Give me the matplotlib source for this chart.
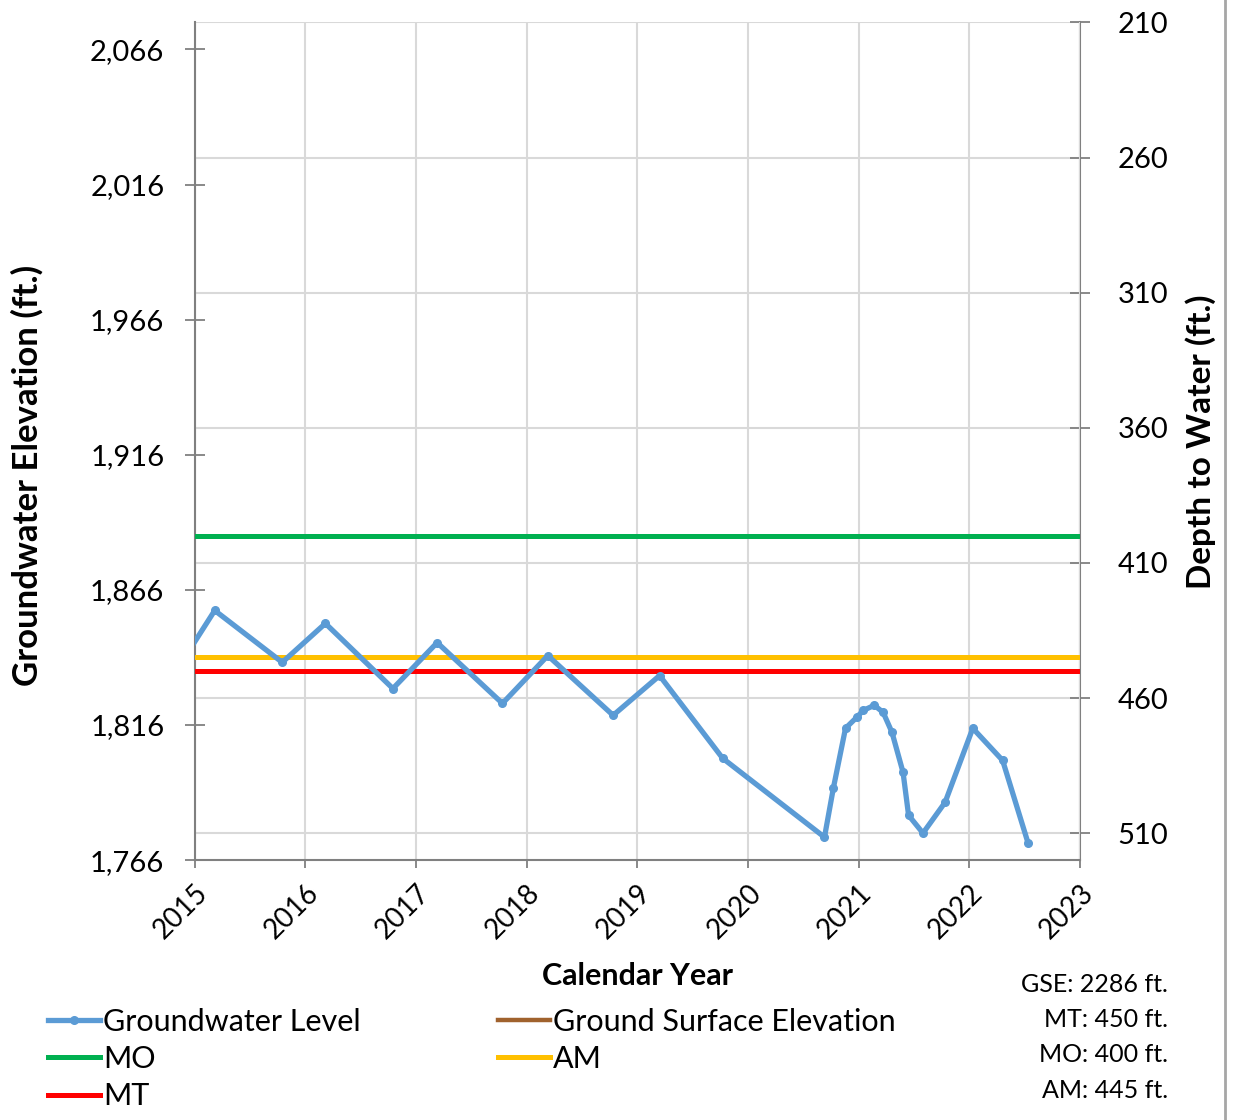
import numpy as np
import matplotlib.pyplot as plt
from matplotlib.ticker import FuncFormatter
from matplotlib.lines import Line2D

plt.rcParams['font.family'] = ['Lato', 'DejaVu Sans']

# -----------------------------
# Data
# -----------------------------
gse = 2286          # ground surface elevation [ft]
mt_depth = 450
mo_depth = 400
am_depth = 445

years = [2014.80, 2015.18, 2015.79, 2016.18, 2016.79, 2017.19, 2017.78, 2018.19,
         2018.78, 2019.20, 2019.77, 2020.69, 2020.77, 2020.88, 2020.98, 2021.04,
         2021.14, 2021.22, 2021.30, 2021.40, 2021.45, 2021.58, 2021.78, 2022.03,
         2022.30, 2022.53]
gw_elev = [1834.0, 1858.4, 1839.2, 1853.6, 1829.5, 1846.5, 1824.0, 1841.7,
           1819.6, 1834.3, 1803.7, 1774.5, 1792.6, 1814.8, 1818.8, 1821.4,
           1823.3, 1820.7, 1813.3, 1798.5, 1782.6, 1776.0, 1787.4, 1814.8,
           1802.9, 1772.3]

year_ticks = list(range(2015, 2024))
elev_ticks = [1766, 1816, 1866, 1916, 1966, 2016, 2066]
depth_ticks = [210, 260, 310, 360, 410, 460, 510]

# -----------------------------
# Figure
# -----------------------------
fig = plt.figure(figsize=(12.33, 11.2), dpi=100)
ax = fig.add_axes([0.158, 0.232, 0.718, 0.748])
ax2 = ax.twinx()

ax.plot(years, gw_elev, "o-", color="#5B9BD5", lw=3.8, ms=5.5, label="Groundwater Level", zorder=5)
ax.axhline(gse, color="#A0622D", lw=3.2, label="Ground Surface Elevation")
ax.axhline(gse - mo_depth, color="#00B050", lw=3.6, label="MO", zorder=4)
ax.axhline(gse - am_depth, color="#FFC000", lw=3.6, label="AM", zorder=4)
ax.axhline(gse - mt_depth, color="#FF0000", lw=3.6, label="MT", zorder=4)

ax.set_xlim(2015, 2023)
ax.set_ylim(gse - 520, gse - 210)
ax2.set_ylim(520, 210)

ax.set_xticks(year_ticks)
ax.set_xticklabels([str(y) for y in year_ticks], rotation=45, ha="right",
                   rotation_mode="anchor", fontsize=20)
ax.set_yticks(elev_ticks)
ax.yaxis.set_major_formatter(FuncFormatter(lambda v, p: f"{v:,.0f}"))
ax2.set_yticks(depth_ticks)

ax.tick_params(axis="y", direction="inout", length=14, width=1.3, color="#808080",
               labelsize=21, pad=15)
ax.tick_params(axis="x", direction="out", length=6, width=1.3, color="#808080", pad=8)
ax2.tick_params(axis="y", direction="inout", length=14, width=1.3, color="#808080",
                labelsize=21, pad=20)

ax.grid(axis="x", color="#D9D9D9", lw=1.5)
ax2.grid(axis="y", color="#D9D9D9", lw=1.5)
ax.set_zorder(ax2.get_zorder() + 1)
ax.patch.set_visible(False)

for a in (ax, ax2):
    a.spines["top"].set_visible(False)
    for s in ("left", "right", "bottom"):
        a.spines[s].set_color("#808080")
        a.spines[s].set_linewidth(1.5)
ax.spines["right"].set_visible(False)
ax2.spines["left"].set_visible(False)
ax2.spines["bottom"].set_visible(False)

ax.set_xlabel("Calendar Year", fontsize=22, fontweight="bold", labelpad=13)
ax.set_ylabel("Groundwater Elevation (ft.)", fontsize=25, fontweight="bold")
ax.yaxis.set_label_coords(-0.171, 0.459)
ax2.set_ylabel("Depth to Water (ft.)", fontsize=24, fontweight="bold", labelpad=12)

# legend below the plot
h, l = ax.get_legend_handles_labels()
order = [0, 2, 4, 1, 3]
fig.legend([h[i] for i in order], [l[i] for i in order], ncol=2,
           loc="upper left", bbox_to_anchor=(0.029, 0.111), frameon=False,
           fontsize=22, handlelength=1.7, handletextpad=0.1,
           columnspacing=4.5, labelspacing=0.3, borderaxespad=0)

notes = [f"GSE: {gse} ft.", f"MT: {mt_depth} ft.", f"MO: {mo_depth} ft.", f"AM: {am_depth} ft."]
for i, t in enumerate(notes):
    fig.text(0.947, 1 - (984 + 35.5 * i) / 1120, t, ha="right", va="center", fontsize=18)

fig.add_artist(Line2D([0.9935, 0.9935], [0, 1], transform=fig.transFigure,
                      color="#A6A6A6", lw=2))

fig.savefig("out.png", dpi=100)
